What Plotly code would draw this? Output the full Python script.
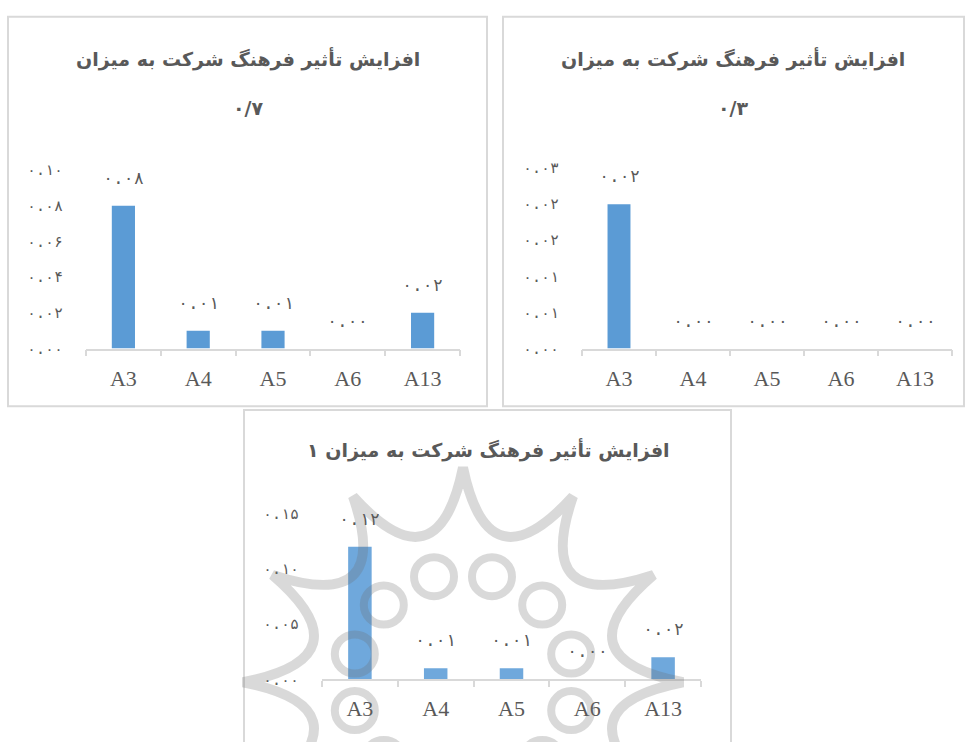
import math
import plotly.graph_objects as go

W, H = 966, 742

categories = ["A3", "A4", "A5", "A6", "A13"]

values_07 = [0.08, 0.01, 0.01, 0.00, 0.02]
values_03 = [0.02, 0.00, 0.00, 0.00, 0.00]
values_1 = [0.12, 0.01, 0.01, 0.00, 0.02]

labels_07 = ["۰.۰۸", "۰.۰۱", "۰.۰۱", "۰.۰۰", "۰.۰۲"]
labels_03 = ["۰.۰۲", "۰.۰۰", "۰.۰۰", "۰.۰۰", "۰.۰۰"]
labels_1 = ["۰.۱۲", "۰.۰۱", "۰.۰۱", "۰.۰۰", "۰.۰۲"]

ticks_07 = [0, 0.02, 0.04, 0.06, 0.08, 0.10]
ticktext_07 = ["۰.۰۰", "۰.۰۲", "۰.۰۴", "۰.۰۶", "۰.۰۸", "۰.۱۰"]
ticks_03 = [0, 0.005, 0.01, 0.015, 0.02, 0.025]
ticktext_03 = ["۰.۰۰", "۰.۰۱", "۰.۰۱", "۰.۰۲", "۰.۰۲", "۰.۰۳"]
ticks_1 = [0, 0.05, 0.10, 0.15]
ticktext_1 = ["۰.۰۰", "۰.۰۵", "۰.۱۰", "۰.۱۵"]

title_main = "افزایش تأثیر فرهنگ شرکت به میزان"
title_07_line2 = "۰/۷"
title_03_line2 = "۰/۳"
title_1 = "افزایش تأثیر فرهنگ شرکت به میزان ۱"

BAR = "#5B9BD5"
BAR_WM = "#6FA8DC"   # bars seen through the watermark
GRAY = "#595959"
LINE = "#D9D9D9"
WM = "rgba(110,110,110,0.26)"
ARAB_FONT = "DejaVu Sans"
NUM_FONT = "DejaVu Sans Mono, DejaVu Sans"
SERIF = "Liberation Serif"


def px_x(p):
    return p / W


def px_y(p):
    return 1 - p / H


panels = [
    (values_07, labels_07, ticks_07, ticktext_07, [0, 0.10], 86, 460, 165, 348, BAR),
    (values_03, labels_03, ticks_03, ticktext_03, [0, 0.025], 582, 952, 163, 348, BAR),
    (values_1, labels_1, ticks_1, ticktext_1, [0, 0.15], 322, 701, 517, 687, BAR_WM),
]

fig = go.Figure()
annotations = []
layout_axes = {}

for i, (vals, labs, tv, tt, yr, x0, x1, yt, yb, col) in enumerate(panels, start=1):
    xa = "x" if i == 1 else f"x{i}"
    ya = "y" if i == 1 else f"y{i}"
    fig.add_trace(go.Bar(
        x=categories, y=vals, xaxis=xa, yaxis=ya,
        marker=dict(color=col, line=dict(width=0)),
        width=0.31, showlegend=False, hoverinfo="x+y",
    ))
    for c, v, l in zip(categories, vals, labs):
        annotations.append(dict(
            x=c, y=v, xref=xa, yref=ya, text=l, showarrow=False,
            yshift=28, font=dict(family=NUM_FONT, size=17, color=GRAY),
        ))
    xkey = "xaxis" if i == 1 else f"xaxis{i}"
    ykey = "yaxis" if i == 1 else f"yaxis{i}"
    layout_axes[xkey] = dict(
        domain=[px_x(x0), px_x(x1)], anchor=ya, type="category",
        showline=True, linecolor=LINE, linewidth=1.5,
        ticks="outside", tickson="boundaries", ticklen=6, tickcolor=LINE,
        tickwidth=1.5, showgrid=False, zeroline=False,
        tickfont=dict(family=SERIF, size=22, color=GRAY),
        ticklabelstandoff=9, fixedrange=True,
    )
    layout_axes[ykey] = dict(
        domain=[px_y(yb), px_y(yt)], anchor=xa, range=yr,
        tickvals=tv, ticktext=tt, showline=False, showgrid=False,
        zeroline=False, ticks="", ticklabelstandoff=22,
        tickfont=dict(family=NUM_FONT, size=15, color=GRAY), fixedrange=True,
    )

title_font = dict(family=ARAB_FONT, size=19, color=GRAY, weight="bold")
for (tx, ty, txt) in [
    (248, 51, title_main), (248, 101, title_07_line2),
    (733, 51, title_main), (733, 101, title_03_line2),
    (488, 452, title_1),
]:
    annotations.append(dict(x=px_x(tx), y=px_y(ty), xref="paper", yref="paper",
                            text=txt, showarrow=False, xanchor="center",
                            yanchor="middle", font=title_font))

shapes = []
for (a, b, c, d) in [(8, 8, 487, 407), (503, 8, 964, 407), (244, 411, 731, 760)]:
    shapes.append(dict(type="rect", xref="paper", yref="paper",
                       x0=px_x(a), x1=px_x(c), y0=px_y(d), y1=px_y(b),
                       line=dict(color=LINE, width=2), fillcolor="rgba(0,0,0,0)",
                       layer="below"))

# --- decorative watermark (faint 12-point rosette behind the third chart) ---
CX, CY = 463, 690          # centre, page pixels
R_PT, R_CTRL = 220, 98     # star tips, curve control radius
R_RING, R_CIRC = 112, 20   # ring of small circles


def pt(r, deg):
    a = math.radians(deg)
    return CX + r * math.cos(a), CY - r * math.sin(a)


def to_paper(x, y):
    return f"{px_x(x):.5f},{px_y(y):.5f}"


path = ""
for k in range(12):
    a0 = 90 - 30 * k
    x0_, y0_ = pt(R_PT, a0)
    cx_, cy_ = pt(R_CTRL, a0 - 15)
    x1_, y1_ = pt(R_PT, a0 - 30)
    if k == 0:
        path += f"M{to_paper(x0_, y0_)} "
    path += f"Q{to_paper(cx_, cy_)} {to_paper(x1_, y1_)} "
path += "Z"
shapes.append(dict(type="path", xref="paper", yref="paper", path=path,
                   line=dict(color=WM, width=10), layer="above"))
for k in range(12):
    ccx, ccy = pt(R_RING, 15 + 30 * k)
    shapes.append(dict(type="circle", xref="paper", yref="paper",
                       x0=px_x(ccx - R_CIRC), x1=px_x(ccx + R_CIRC),
                       y0=px_y(ccy + R_CIRC), y1=px_y(ccy - R_CIRC),
                       line=dict(color=WM, width=8), layer="above"))

fig.update_layout(
    width=W, height=H, margin=dict(l=0, r=0, t=0, b=0),
    paper_bgcolor="white", plot_bgcolor="rgba(0,0,0,0)",
    annotations=annotations, shapes=shapes, **layout_axes,
)

fig.write_html(
    "out.html",
    config={"displayModeBar": False},
    post_script="document.body.style.margin='0';document.body.style.overflow='hidden';",
)
